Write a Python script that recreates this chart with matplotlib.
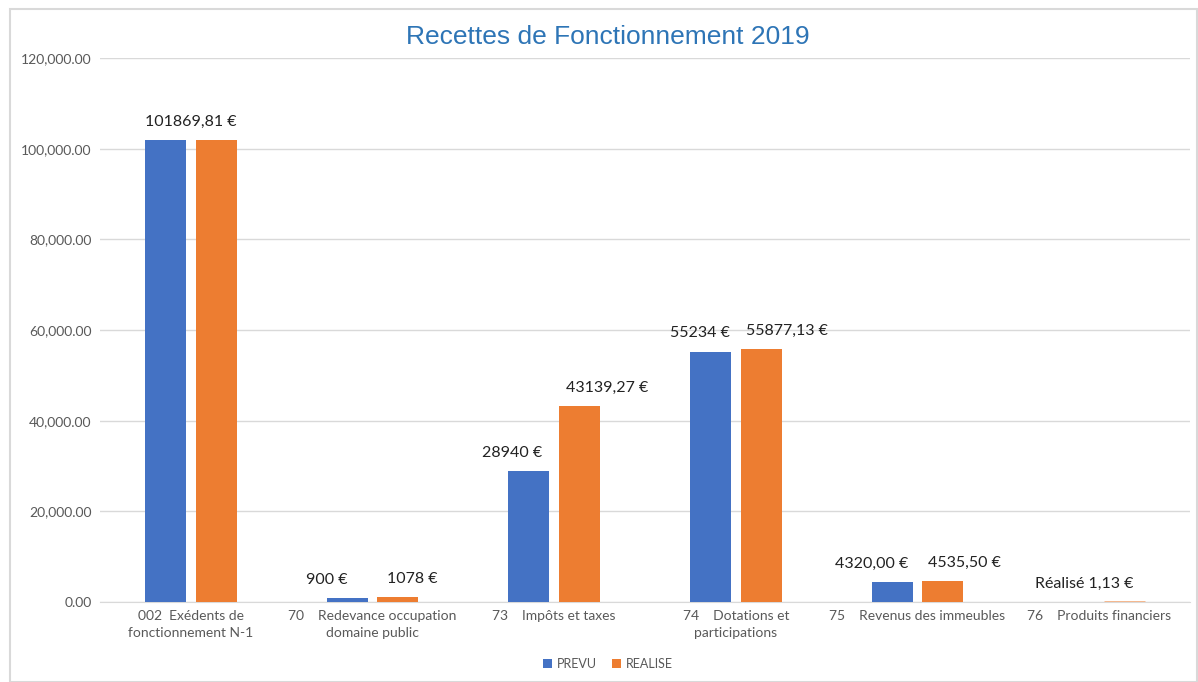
import matplotlib
matplotlib.use("Agg")
import matplotlib.pyplot as plt
import numpy as np
from matplotlib.patches import Rectangle

categories = ["002  Exédents de\nfonctionnement N-1",
              "70    Redevance occupation\ndomaine public",
              "73    Impôts et taxes",
              "74    Dotations et\nparticipations",
              "75    Revenus des immeubles",
              "76    Produits financiers"]
prevu = [101869.81, 900, 28940, 55234, 4320.00, 0]
realise = [101869.81, 1078, 43139.27, 55877.13, 4535.50, 1.13]
labels_text = ["101869,81 €", "900 €", "1078 €", "28940 €", "43139,27 €",
               "55234 €", "55877,13 €", "4320,00 €", "4535,50 €", "Réalisé 1,13 €"]
series_names = ["PREVU", "REALISE"]

blue = "#4472C4"
orange = "#ED7D31"
grey = "#595959"

plt.rcParams['font.family'] = ['Lato', 'DejaVu Sans']

fig = plt.figure(figsize=(11.98, 6.82), dpi=100)
ax = fig.add_axes([100/1198, 80/682, 1090/1198, (602-58)/682])

x = np.arange(len(categories))
w = 0.226
off = 0.14
b1 = ax.bar(x - off, prevu, w, color=blue, label=series_names[0], zorder=3)
b2 = ax.bar(x + off, realise, w, color=orange, label=series_names[1], zorder=3,
            edgecolor="#F4B183", linewidth=[0, 0, 0, 0, 0, 2.0])

ax.set_xlim(-0.5, len(categories) - 0.5)
ax.set_ylim(0, 120000)
ax.set_yticks(np.arange(0, 120001, 20000))
ax.set_yticklabels([f"{v:,.2f}" for v in np.arange(0, 120001, 20000)],
                   color=grey, fontsize=10)
ax.yaxis.grid(True, color="#D9D9D9", linewidth=1, zorder=0)
ax.set_axisbelow(True)
ax.set_xticks(x)
ax.set_xticklabels(categories, color=grey, fontsize=10, linespacing=1.5)
ax.tick_params(axis='both', length=0)
ax.tick_params(axis='x', pad=6)
ax.tick_params(axis='y', pad=6)
for s in ["top", "right", "left"]:
    ax.spines[s].set_visible(False)
ax.spines["bottom"].set_color("#D9D9D9")

# data labels (positions relative to bars)
lab_pos = [
    (x[0], prevu[0]),
    (x[1] - off - 0.11, prevu[1]),
    (x[1] + off + 0.08, realise[1]),
    (x[2] - off - 0.09, prevu[2]),
    (x[2] + off + 0.15, realise[2]),
    (x[3] - off - 0.06, prevu[3]),
    (x[3] + off + 0.14, realise[3]),
    (x[4] - off - 0.11, prevu[4]),
    (x[4] + off + 0.12, realise[4]),
    (x[5] - 0.08, realise[5]),
]
for (px, py), t in zip(lab_pos, labels_text):
    ax.annotate(t, (px, py), xytext=(0, 8), textcoords="offset points",
                ha="center", va="bottom", fontsize=11.5, color="#222222")

fig.suptitle("Recettes de Fonctionnement 2019", x=608/1198, y=1-37/682,
             va="center", fontsize=19, color="#2E75B6",
             family=['Liberation Sans', 'DejaVu Sans'])

leg = fig.legend(handles=[b1, b2], labels=series_names, loc="center",
                 bbox_to_anchor=(608/1198, 1-664/682), ncol=2, frameon=False,
                 fontsize=9, handlelength=0.7, handleheight=0.7,
                 handletextpad=0.4, columnspacing=1.2)
for t in leg.get_texts():
    t.set_color(grey)

fig.patches.append(Rectangle((10/1198, 0), 1 - 10/1198 - 0.001, 1 - 8/682 - 0.001,
                             transform=fig.transFigure, fill=False,
                             edgecolor="#D9D9D9", linewidth=1.5))

fig.savefig("out.png", dpi=100)
